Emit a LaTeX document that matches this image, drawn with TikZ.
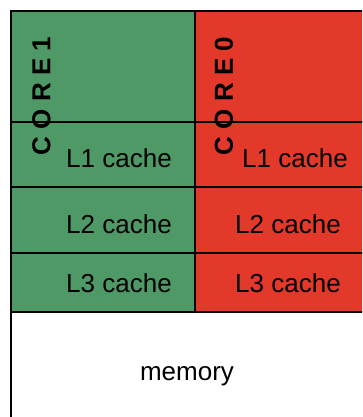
\documentclass[tikz,border=0pt]{standalone}
\usepackage{fontspec}
\setmainfont{Liberation Sans}
\definecolor{coregreen}{RGB}{79,153,102}
\definecolor{corered}{RGB}{226,57,42}
\begin{document}
\begin{tikzpicture}[x=1pt,y=-1pt,
  lbl/.style={font=\fontsize{26}{30}\selectfont, anchor=base, inner sep=0pt},
  corelbl/.style={font=\fontsize{26}{30}\selectfont\bfseries, rotate=90, inner sep=0pt},
  gridline/.style={line width=2pt, black}]
\useasboundingbox (0,0) rectangle (362,417);
\begin{scope}
\clip (0,0) rectangle (362,417);
\fill[white] (0,0) rectangle (362,417);
\fill[coregreen] (11,11) rectangle (195,312);
\fill[corered] (195,11) rectangle (380,312);
\draw[gridline] (11,430) -- (11,11) -- (380,11);
\draw[gridline] (195,11) -- (195,312);
\draw[gridline] (11,122) -- (380,122);
\draw[gridline] (11,187) -- (380,187);
\draw[gridline] (11,253) -- (380,253);
\draw[gridline] (11,312) -- (380,312);
\end{scope}
\node[corelbl] (core1) at (41.5,96) {C O R E 1};
\node[corelbl] (core0) at (224,96) {C O R E 0};
\node[lbl] (l1a) at (119,167) {L1 cache};
\node[lbl] (l1b) at (295,167) {L1 cache};
\node[lbl] (l2a) at (119,233) {L2 cache};
\node[lbl] (l2b) at (288,233) {L2 cache};
\node[lbl] (l3a) at (119,292) {L3 cache};
\node[lbl] (l3b) at (288,292) {L3 cache};
\node[lbl] (mem) at (187,380) {memory};
\end{tikzpicture}
\end{document}
